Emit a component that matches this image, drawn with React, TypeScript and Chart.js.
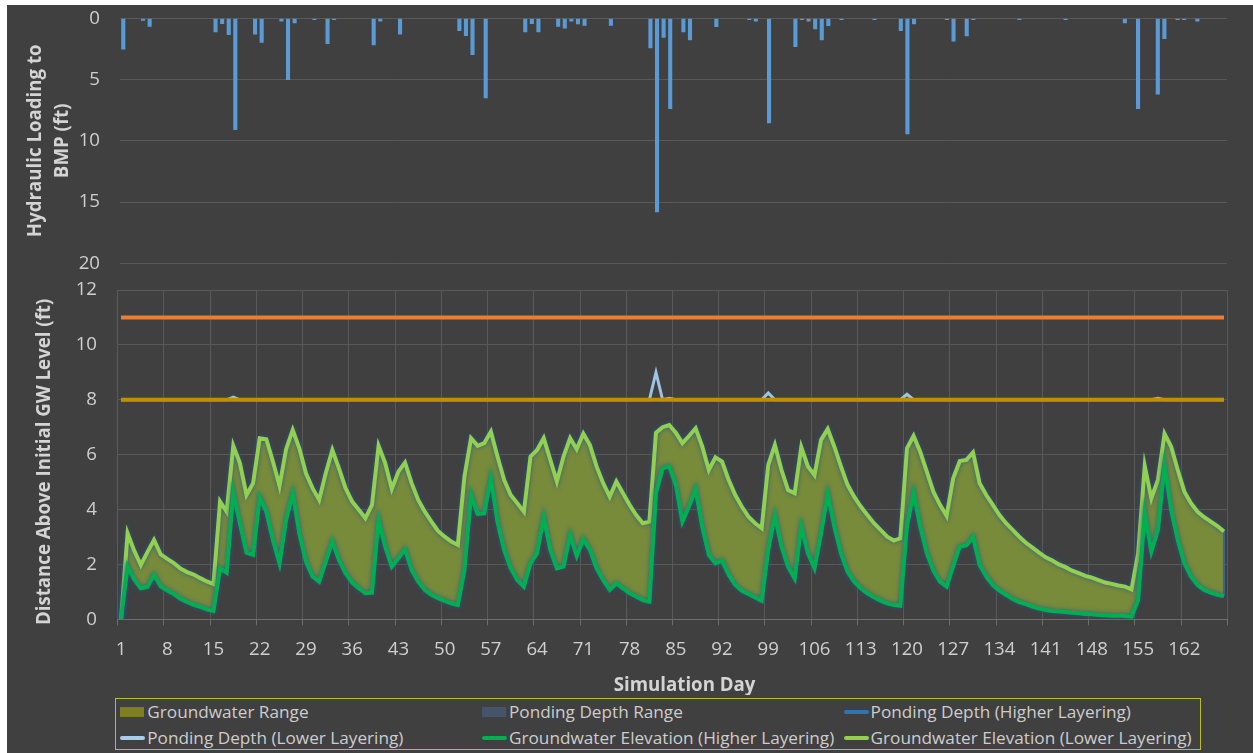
import React, { useEffect, useRef } from 'react';
import { Chart, registerables } from 'chart.js';

Chart.register(...registerables);

const FONT = '"Open Sans", "Noto Sans", sans-serif';
const BG = '#404040';
const GRID = '#595959';
const AXIS_LINE = '#6E6E6E';
const TICK_COLOR = '#CFCFCF';
const TITLE_COLOR = '#D4D4D4';
const CLEAR = 'rgba(0,0,0,0)';
const NBSP = '\u00a0';

// Simulation days 1..168
const days: string[] = Array.from({ length: 168 }, (_, i) => String(i + 1));

// Daily hydraulic loading to the BMP (ft); days without loading are zero
const loadingDays = [
  1, 4, 5, 15, 16, 17, 18, 21, 22, 25, 26, 27, 30, 32, 33, 39, 40, 43,
  52, 53, 54, 56, 62, 63, 64, 67, 68, 69, 70, 71, 75, 81, 82, 83, 84, 86,
  87, 91, 96, 97, 99, 103, 104, 105, 106, 107, 108, 110, 115, 119, 120, 121,
  126, 127, 129, 130, 137, 144, 153, 155, 158, 159, 161, 162, 164,
];
const loadingFt = [
  2.55, 0.19, 0.68, 1.14, 0.46, 1.36, 9.12, 1.33, 1.99, 0.27, 5.03, 0.41, 0.14, 2.1, 0.14, 2.2, 0.27, 1.33,
  1.03, 1.44, 2.99, 6.53, 1.14, 0.46, 1.14, 0.68, 0.84, 0.27, 0.49, 0.6, 0.6, 2.45, 15.84, 1.58, 7.4, 1.14,
  1.8, 0.71, 0.14, 0.27, 8.57, 2.34, 0.14, 0.27, 0.9, 1.8, 0.63, 0.14, 0.14, 1.03, 9.47, 0.49,
  0.14, 1.9, 1.47, 0.14, 0.14, 0.14, 0.41, 7.4, 6.23, 1.69, 0.14, 0.14, 0.27,
];

// Groundwater elevation above the initial level (ft), one row per week
const gwLowerLayering = [
  0, 3.13, 2.5, 1.98, 2.45, 2.89, 2.37,
  2.2, 2.05, 1.85, 1.72, 1.63, 1.5, 1.38,
  1.28, 4.29, 3.92, 6.32, 5.69, 4.53, 4.96,
  6.6, 6.56, 5.75, 4.86, 6.2, 6.9, 6.23,
  5.32, 4.78, 4.35, 5.32, 6.17, 5.5, 4.78,
  4.29, 3.99, 3.68, 4.17, 6.32, 5.69, 4.75,
  5.38, 5.71, 4.96, 4.35, 3.92, 3.56, 3.22,
  3.01, 2.83, 2.71, 5.2, 6.6, 6.32, 6.42,
  6.84, 5.93, 5.08, 4.53, 4.23, 3.92, 5.93,
  6.17, 6.6, 5.81, 5.02, 5.93, 6.6, 6.2,
  6.76, 6.35, 5.57, 4.96, 4.47, 5.02, 4.59,
  4.17, 3.8, 3.5, 3.56, 6.8, 7.0, 7.08,
  6.8, 6.42, 6.68, 6.96, 6.3, 5.44, 5.9,
  5.75, 5.08, 4.53, 4.1, 3.74, 3.5, 3.32,
  5.63, 6.35, 5.44, 4.71, 4.59, 6.27, 5.57,
  5.26, 6.54, 6.93, 6.29, 5.57, 4.9, 4.47,
  4.11, 3.8, 3.5, 3.26, 3.01, 2.87, 2.95,
  6.23, 6.68, 6.11, 5.38, 4.65, 4.17, 3.77,
  5.14, 5.77, 5.81, 6.08, 4.96, 4.53, 4.17,
  3.8, 3.5, 3.26, 3.01, 2.79, 2.61, 2.43,
  2.26, 2.14, 2.0, 1.9, 1.77, 1.68, 1.58,
  1.52, 1.43, 1.34, 1.29, 1.23, 1.19, 1.09,
  2.4, 5.59, 4.41, 5.08, 6.76, 6.29, 5.44,
  4.65, 4.23, 3.92, 3.72, 3.56, 3.4, 3.2,
];
const gwHigherLayering = [
  0, 1.92, 1.45, 1.13, 1.18, 1.62, 1.2,
  1.05, 0.92, 0.75, 0.63, 0.53, 0.45, 0.36,
  0.3, 1.86, 1.7, 4.62, 3.5, 2.43, 2.35,
  4.45, 3.92, 2.89, 2.04, 3.62, 4.59, 3.13,
  2.1, 1.56, 1.37, 2.1, 2.83, 2.16, 1.68,
  1.34, 1.13, 0.95, 0.97, 3.62, 2.65, 1.92,
  2.22, 2.55, 1.8, 1.37, 1.07, 0.89, 0.77,
  0.67, 0.58, 0.52, 1.8, 4.53, 3.84, 3.86,
  5.14, 3.56, 2.53, 1.86, 1.43, 1.19, 2.04,
  2.41, 3.72, 2.53, 1.86, 1.92, 3.07, 2.31,
  2.92, 2.53, 1.86, 1.43, 1.07, 1.31, 1.13,
  0.95, 0.83, 0.7, 0.64, 4.59, 5.5, 5.57,
  4.9, 3.56, 4.11, 4.74, 3.38, 2.35, 2.04,
  2.14, 1.62, 1.25, 1.04, 0.92, 0.8, 0.68,
  2.53, 3.77, 2.65, 1.92, 1.49, 3.38, 2.41,
  1.86, 3.13, 4.57, 3.38, 2.41, 1.74, 1.37,
  1.13, 0.95, 0.8, 0.68, 0.58, 0.52, 0.49,
  3.4, 4.62, 3.38, 2.41, 1.77, 1.37, 1.19,
  1.95, 2.65, 2.69, 3.01, 1.98, 1.56, 1.25,
  1.04, 0.89, 0.74, 0.63, 0.55, 0.46, 0.39,
  0.34, 0.3, 0.28, 0.27, 0.24, 0.22, 0.19,
  0.18, 0.16, 0.15, 0.13, 0.13, 0.12, 0.1,
  0.7, 3.86, 2.47, 3.26, 5.59, 3.99, 2.89,
  2.04, 1.56, 1.25, 1.07, 0.97, 0.89, 0.85,
];

// Ground surface of each layering (ft above initial GW level)
const surfaceHigherFt = 11;
const surfaceLowerFt = 8;

// Ponding depth above the surface (ft) on the days it occurs
const pondingLowerDays = [18, 82, 84, 99, 120, 158];
const pondingLowerFt = [0.1, 1.0, 0.05, 0.25, 0.2, 0.05];
const pondingHigherDays: number[] = [];
const pondingHigherFt: number[] = [];

// Axis ranges
const loadingAxis = { min: 0, max: 20, step: 5 };
const levelAxis = { min: 0, max: 12, step: 2 };
const dayTickEvery = 7;

const daily = (on: number[], vals: number[], base = 0) =>
  days.map((_, i) => {
    const k = on.indexOf(i + 1);
    return base + (k >= 0 ? vals[k] : 0);
  });

const legendItems = [
  { label: 'Groundwater Range', kind: 'box', color: '#7F7F22' },
  { label: 'Ponding Depth Range', kind: 'box', color: '#44546A' },
  { label: 'Ponding Depth (Higher Layering)', kind: 'line', color: '#2E75B6' },
  { label: 'Ponding Depth (Lower Layering)', kind: 'line', color: '#A9CDEB' },
  { label: 'Groundwater Elevation (Higher Layering)', kind: 'line', color: '#00B050' },
  { label: 'Groundwater Elevation (Lower Layering)', kind: 'line', color: '#92D050' },
];

function Legend() {
  const colX = [4.6, 366.3, 727.9];
  const rowY = [12.3, 38.3];
  return (
    <div
      style={{
        position: 'absolute',
        left: 107.7,
        top: 693.3,
        width: 1086,
        height: 52,
        boxSizing: 'border-box',
        border: '1.5px solid #BDBD2C',
      }}
    >
      {legendItems.map((it, i) => {
        const x = colX[i % 3];
        const y = rowY[Math.floor(i / 3)];
        return (
          <React.Fragment key={it.label}>
            <div
              style={{
                position: 'absolute',
                left: x,
                top: it.kind === 'box' ? y - 4.5 : y - 1.5,
                width: it.kind === 'box' ? 24 : 25,
                height: it.kind === 'box' ? 10 : 4,
                background: it.color,
                borderRadius: it.kind === 'box' ? 0 : 2,
              }}
            />
            <div
              style={{
                position: 'absolute',
                left: x + 27,
                top: y - 11,
                height: 22,
                lineHeight: '22px',
                whiteSpace: 'nowrap',
                fontFamily: FONT,
                fontSize: 17.2,
                color: '#CDCDCD',
              }}
            >
              {it.label}
            </div>
          </React.Fragment>
        );
      })}
    </div>
  );
}

export default function App() {
  const topRef = useRef<HTMLCanvasElement>(null);
  const bottomRef = useRef<HTMLCanvasElement>(null);

  useEffect(() => {
    const tickFont = { family: FONT, size: 18.67 };
    const titleFont = { family: FONT, size: 18.67, weight: 'bold' as const };

    const top = new Chart(topRef.current!, {
      type: 'bar',
      data: {
        labels: days,
        datasets: [
          {
            label: 'Hydraulic Loading to BMP (ft)',
            data: daily(loadingDays, loadingFt),
            backgroundColor: '#5B9BD5',
            borderWidth: 0,
            barPercentage: 0.62,
            categoryPercentage: 1,
          },
        ],
      },
      options: {
        animation: false,
        responsive: false,
        layout: { padding: { left: 0, right: 26, top: 13.3, bottom: 11.7 } },
        plugins: { legend: { display: false }, tooltip: { enabled: false } },
        scales: {
          x: { display: false, offset: true, grid: { display: false } },
          y: {
            reverse: true,
            min: loadingAxis.min,
            max: loadingAxis.max,
            // label gap comes from an invisible tick mark so it does not pad the chart area
            ticks: { stepSize: loadingAxis.step, color: TICK_COLOR, font: tickFont, padding: 0 },
            grid: { color: GRID, drawTicks: true, tickLength: 20, tickColor: CLEAR, lineWidth: 1 },
            border: { display: false },
            title: {
              display: true,
              text: ['Hydraulic Loading to', 'BMP (ft)'],
              color: TITLE_COLOR,
              font: { ...titleFont, lineHeight: 1.45 },
              padding: { top: 15, bottom: 0 },
            },
            afterFit: (s: any) => {
              s.width = 113;
            },
          },
        },
      },
    });

    const gwLower = gwLowerLayering;
    const gwHigher = gwHigherLayering;

    const glow = {
      id: 'glow',
      beforeDatasetDraw(chart: any, args: any) {
        if (args.index <= 1) {
          const c = chart.ctx;
          c.save();
          c.shadowColor = 'rgba(46, 84, 150, 0.9)';
          c.shadowBlur = 4;
        }
      },
      afterDatasetDraw(chart: any, args: any) {
        if (args.index <= 1) chart.ctx.restore();
      },
    };

    // Closing edge of the groundwater range at the last simulated day
    const rangeEdge = {
      id: 'rangeEdge',
      beforeDatasetsDraw(chart: any) {
        const x = chart.scales.x;
        const y = chart.scales.y;
        const last = days.length - 1;
        const c = chart.ctx;
        c.save();
        c.strokeStyle = '#3A6396';
        c.lineWidth = 2;
        c.beginPath();
        c.moveTo(x.getPixelForValue(last), y.getPixelForValue(gwHigher[last]));
        c.lineTo(x.getPixelForValue(last), y.getPixelForValue(gwLower[last]));
        c.stroke();
        c.restore();
      },
    };

    const lineBase = { pointRadius: 0, pointHoverRadius: 0, tension: 0, fill: false, xAxisID: 'x' };

    const bottom = new Chart(bottomRef.current!, {
      type: 'line',
      data: {
        labels: days,
        datasets: [
          {
            ...lineBase,
            label: 'Groundwater Elevation (Higher Layering)',
            data: gwHigher,
            borderColor: '#00B050',
            borderWidth: 4,
          },
          {
            ...lineBase,
            label: 'Groundwater Elevation (Lower Layering)',
            data: gwLower,
            borderColor: '#92D050',
            borderWidth: 4,
            fill: 0,
            backgroundColor: '#778B3A',
          },
          {
            ...lineBase,
            label: 'Surface (Higher Layering)',
            data: days.map(() => surfaceHigherFt),
            borderColor: '#ED7D31',
            borderWidth: 4,
          },
          {
            ...lineBase,
            label: 'Surface (Lower Layering)',
            data: days.map(() => surfaceLowerFt),
            borderColor: '#BF9000',
            borderWidth: 4,
          },
          {
            ...lineBase,
            label: 'Ponding Depth (Higher Layering)',
            data: daily(pondingHigherDays, pondingHigherFt, surfaceHigherFt),
            borderColor: '#2E75B6',
            borderWidth: 3,
          },
          {
            ...lineBase,
            label: 'Ponding Depth (Lower Layering)',
            data: daily(pondingLowerDays, pondingLowerFt, surfaceLowerFt),
            borderColor: '#9DC3E6',
            borderWidth: 3,
          },
        ],
      },
      options: {
        animation: false,
        responsive: false,
        layout: { padding: { left: 0, right: 25.7, top: 15, bottom: 0 } },
        plugins: {
          legend: { display: false },
          tooltip: { enabled: false },
          filler: { drawTime: 'beforeDatasetsDraw' },
        },
        scales: {
          // day categories: labels every week, centred on their day
          x: {
            type: 'category',
            position: 'bottom',
            weight: 1,
            offset: true,
            grid: { display: false, drawTicks: false },
            border: { display: false },
            ticks: {
              autoSkip: false,
              maxRotation: 0,
              minRotation: 0,
              padding: 19,
              color: TICK_COLOR,
              font: tickFont,
              callback: (_v: any, i: number) => (i % dayTickEvery === 0 ? days[i] : null),
            },
            title: {
              display: true,
              // leading spaces nudge the title right of the plot centre
              text: NBSP.repeat(5) + 'Simulation Day',
              color: TITLE_COLOR,
              font: { ...titleFont, lineHeight: 1.0 },
              padding: { top: 0, bottom: 0 },
            },
            afterFit: (s: any) => {
              s.height = 75.7;
            },
          },
          // weekly boundaries between day categories: vertical grid and tick marks
          xw: {
            type: 'linear',
            axis: 'x',
            position: 'bottom',
            weight: 0,
            min: 0,
            max: days.length,
            ticks: { stepSize: dayTickEvery, display: false },
            grid: { color: GRID, drawTicks: true, tickLength: 6, tickColor: AXIS_LINE, lineWidth: 1 },
            border: { display: true, color: AXIS_LINE, width: 1 },
            afterFit: (s: any) => {
              s.height = 0;
            },
          },
          y: {
            min: levelAxis.min,
            max: levelAxis.max,
            ticks: { stepSize: levelAxis.step, color: TICK_COLOR, font: tickFont, padding: 0 },
            grid: { color: GRID, drawTicks: true, tickLength: 20.7, tickColor: CLEAR, lineWidth: 1 },
            border: { display: false },
            title: {
              display: true,
              // trailing spaces nudge the title below the plot centre
              text: 'Distance Above Initial GW Level (ft)' + NBSP.repeat(3),
              color: TITLE_COLOR,
              font: titleFont,
              padding: { top: 26.2, bottom: 0 },
            },
            afterFit: (s: any) => {
              s.width = 110.7;
            },
          },
        },
      },
      plugins: [rangeEdge, glow],
    });

    return () => {
      top.destroy();
      bottom.destroy();
    };
  }, []);

  return (
    <div
      style={{
        position: 'absolute',
        left: 7,
        top: 5,
        width: 1246,
        height: 748,
        background: BG,
        overflow: 'hidden',
      }}
    >
      <canvas
        ref={topRef}
        width={1246}
        height={270}
        style={{ position: 'absolute', left: 0, top: 0, width: 1246, height: 270 }}
      />
      <canvas
        ref={bottomRef}
        width={1246}
        height={420}
        style={{ position: 'absolute', left: 0, top: 270, width: 1246, height: 420 }}
      />
      <Legend />
    </div>
  );
}
